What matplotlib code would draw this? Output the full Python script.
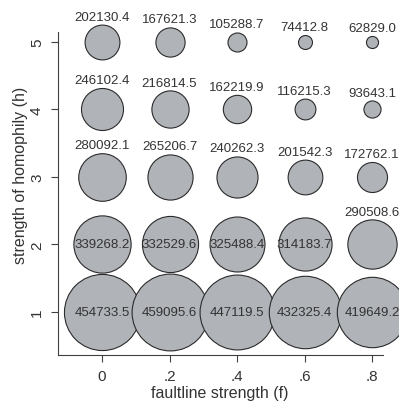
import matplotlib
matplotlib.use('Agg')
import matplotlib.pyplot as plt

plt.rcParams['font.family'] = ['Liberation Sans', 'DejaVu Sans']

# faultline strength (x) and homophily strength (y)
faultline = [0, .2, .4, .6, .8]
faultline_labels = ['0', '.2', '.4', '.6', '.8']
homophily = [1, 2, 3, 4, 5]

# one row per homophily level, columns follow faultline
vals_h1 = [454733.5, 459095.6, 447119.5, 432325.4, 419649.2]
vals_h2 = [339268.2, 332529.6, 325488.4, 314183.7, 290508.6]
vals_h3 = [280092.1, 265206.7, 240262.3, 201542.3, 172762.1]
vals_h4 = [246102.4, 216814.5, 162219.9, 116215.3, 93643.1]
vals_h5 = [202130.4, 167621.3, 105288.7, 74412.8, 62829.0]
values = [vals_h1, vals_h2, vals_h3, vals_h4, vals_h5]

fill = '#b0b3b8'
edge = '#2b2b2b'
txt = '#333333'
px = 0.72  # points per pixel at 100 dpi

fig = plt.figure(figsize=(3.99, 4.06), dpi=100)
ax = fig.add_axes([58 / 399, 1 - 356 / 406, 325 / 399, 323 / 406])

for i, h in enumerate(homophily):
    for j, f in enumerate(faultline):
        v = values[i][j]
        r = 0.9 + v * 8.17e-5  # marker radius in pixels
        ax.scatter(f, h, s=(2 * r * px) ** 2, c=fill, edgecolors=edge,
                   linewidths=0.8, clip_on=False, zorder=3)
        if v > 300000:
            ax.annotate(f'{v:.1f}', (f, h), ha='center', va='center',
                        fontsize=9.5, color=txt, zorder=10,
                        annotation_clip=False)
        else:
            ax.annotate(f'{v:.1f}', (f, h), xytext=(0, (r + 8) * px),
                        textcoords='offset points', ha='center', va='center',
                        fontsize=9.5, color=txt, zorder=10,
                        annotation_clip=False)

ax.set_xlim(-0.1304, 0.8326)
ax.set_ylim(0.363, 5.148)

ax.set_xticks(faultline)
ax.set_xticklabels(faultline_labels)
ax.set_yticks(homophily)
ax.set_yticklabels([str(h) for h in homophily], rotation=90, va='center')

for s in ['top', 'right']:
    ax.spines[s].set_visible(False)
for s in ['left', 'bottom']:
    ax.spines[s].set_color('#404040')
    ax.spines[s].set_linewidth(0.8)

ax.tick_params(length=5, width=0.8, color='#404040', labelsize=11,
               labelcolor=txt, pad=5)

ax.set_xlabel('faultline strength (f)', fontsize=11.5, color=txt, va='center')
ax.xaxis.set_label_coords(0.498, (356 - 394) / 323)
ax.set_ylabel('strength of homophily (h)', fontsize=11.5, color=txt, va='center')
ax.yaxis.set_label_coords((21 - 58) / 325, (356 - 175) / 323)

fig.savefig('out.png', dpi=100)
